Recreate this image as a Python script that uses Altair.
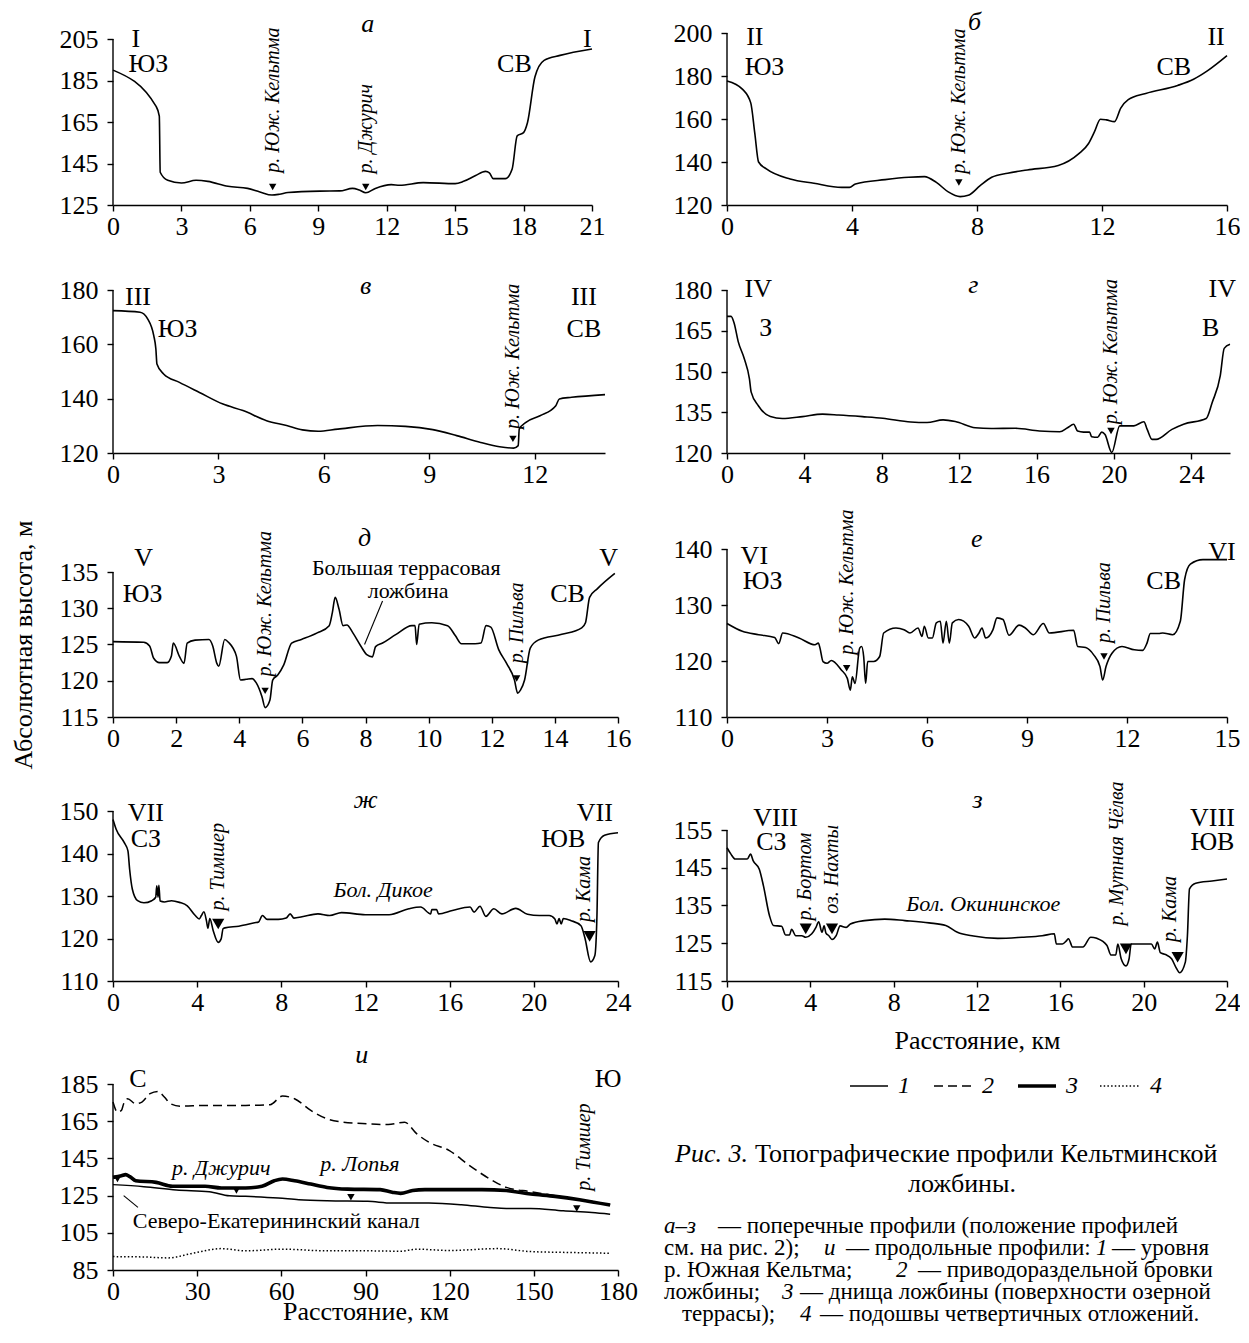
import altair as alt
import pandas as pd

FONT = "Liberation Serif"

# ------------------------------------------------------------------ data
# panel а (profile I)
A_X = [0, 1.89, 2.03, 2.07, 2.4, 3.0, 3.64, 4.16, 5.04, 5.9, 6.44, 6.97, 7.3, 7.67, 9.07, 9.94,
       10.5, 10.8, 11.08, 11.5, 12.2, 12.57, 13.6, 15.0, 15.37, 15.9, 16.33, 16.5, 16.67, 17.2,
       17.5, 17.72, 18.0, 18.17, 18.5, 18.9, 19.6, 21.0]
A_Y = [190, 172.5, 167.8, 140.8, 136.9, 135.6, 136.9, 136.4, 134, 133, 131.3, 129.8, 130.2, 131,
       131.7, 131.8, 133, 132.2, 130.9, 133, 134.8, 134.5, 135.8, 135.3, 136.4, 139.2, 141.2, 140.5,
       137.7, 137.7, 142.4, 158.3, 159.9, 164.6, 186.8, 194.7, 197.1, 200.2]
# panel б (profile II)
B_X = [0, 0.5, 0.76, 0.89, 1.01, 1.26, 2.02, 2.78, 3.67, 3.92, 4.11, 5.06, 5.82, 6.32, 6.7, 7.08,
       7.46, 7.72, 8.1, 8.47, 8.98, 9.61, 10.6, 11.26, 11.57, 11.76, 11.95, 12.14, 12.4, 12.6,
       12.84, 13.4, 14.42, 14.93, 15.37, 16.0]
B_Y = [177.7, 173.8, 167.5, 153.3, 140, 136.8, 132.1, 130.1, 128.2, 128.2, 129.8, 131.8, 132.9,
       133.2, 130.5, 126.1, 123.9, 124.5, 129, 132.9, 134.8, 136.3, 138.4, 143.9, 148.6, 154.1,
       159.9, 159.6, 158.8, 165.1, 169, 171.9, 175.6, 178.5, 182.4, 189.5]
# panel в (profile III)
C_X = [0, 0.77, 0.99, 1.16, 1.22, 1.25, 1.44, 1.89, 2.46, 3.13, 3.7, 4.37, 4.94, 5.39, 5.84, 6.4,
       7.53, 8.32, 9.1, 9.78, 10.46, 11.0, 11.4, 11.53, 11.56, 11.75, 12.15, 12.6, 12.7, 13.05, 14.0]
C_Y = [172.4, 171.8, 169.3, 163.2, 158.3, 152.8, 149.1, 146, 142.3, 138, 135.6, 131.9, 130.1,
       128.5, 128, 128.8, 130.1, 129.8, 128.6, 126.4, 123.9, 122.3, 121.8, 122.7, 128.8, 131.3,
       133.7, 137.4, 139.9, 140.5, 141.5]
# panel г (profile IV)
D_X = [0, 0.21, 0.37, 0.58, 0.89, 1.16, 1.25, 1.62, 2.24, 2.86, 3.9, 4.94, 5.77, 7.0, 8.05, 9.5,
       10.34, 11.17, 11.8, 12.83, 13.66, 14.9, 16.15, 17.2, 17.6, 17.92, 18.12, 18.43, 18.74,
       18.85, 19.16, 19.37, 19.54, 19.89, 20.3, 21.03, 21.55, 21.72, 21.97, 22.18, 23.0, 23.6,
       24.77, 25.08, 25.5, 25.7, 26.0]
D_Y = [170.3, 170.3, 167.8, 161, 154.8, 147.3, 142.4, 137.4, 133.4, 132.7, 133.4, 134.3, 134,
       133.4, 132.8, 131.4, 131.2, 132.2, 131.6, 129.3, 129, 129.1, 128.1, 127.8, 129.3, 130.6,
       128.1, 127.7, 127.7, 126, 125.8, 127.7, 126.8, 120.2, 130, 130, 131.5, 128.7, 125, 125,
       128.7, 130.6, 132.7, 138.6, 148.6, 158.5, 160]
# panel д (profile V)
E_X = [0, 0.97, 1.16, 1.29, 1.47, 1.72, 1.85, 1.91, 2.1, 2.25, 2.35, 2.6, 3.04, 3.16, 3.29, 3.35,
       3.54, 3.66, 3.91, 4.04, 4.22, 4.41, 4.54, 4.72, 4.82, 4.97, 5.06, 5.22, 5.41, 5.66, 5.97,
       6.47, 6.85, 6.95, 7.04, 7.16, 7.29, 7.41, 7.6, 7.85, 8.04, 8.22, 8.32, 8.54, 8.97, 9.47,
       9.57, 9.62, 9.7, 10.1, 10.6, 10.85, 11.04, 11.47, 11.66, 11.82, 11.97, 12.22, 12.47, 12.72,
       12.82, 12.91, 13.04, 13.22, 13.47, 14.22, 14.85, 14.97, 15.1, 15.35, 15.9]
E_Y = [125.4, 125.3, 124.8, 123.1, 122.5, 122.5, 123.4, 125.2, 123.4, 122.4, 125.2, 125.6, 125.7,
       124.8, 122.4, 122.0, 125.7, 125.3, 123.4, 120.1, 120.2, 120.3, 119.7, 117.8, 116.3, 117.3,
       120.1, 120.8, 122.2, 125.2, 125.7, 126.6, 127.6, 129.4, 131.5, 129.9, 127.6, 127.7, 126.6,
       124.8, 123.6, 123.3, 124.7, 125.2, 126.4, 127.6, 127.6, 125.0, 127.8, 128.0, 127.6, 126.2,
       125.1, 125.1, 125.2, 127.6, 127.4, 124.3, 122.4, 120.1, 118.3, 118.7, 120.1, 124.5, 125.6,
       126.4, 127.3, 128.0, 131.5, 132.7, 134.8]
# panel е (profile VI)
F_X = [0, 0.46, 0.95, 1.43, 1.55, 1.67, 2.16, 2.64, 2.74, 2.79, 2.88, 3.0, 3.13, 3.43, 3.61, 3.7,
       3.76, 3.84, 3.98, 4.04, 4.1, 4.16, 4.22, 4.4, 4.58, 4.7, 5.07, 5.31, 5.49, 5.73, 5.85, 5.92,
       6.04, 6.16, 6.28, 6.4, 6.48, 6.58, 6.67, 6.76, 6.95, 7.25, 7.43, 7.55, 7.65, 7.76, 7.98,
       8.1, 8.28, 8.46, 8.76, 8.95, 9.19, 9.49, 9.67, 10.4, 10.52, 10.76, 11.0, 11.19, 11.27,
       11.37, 11.55, 11.85, 12.22, 12.47, 12.6, 12.7, 12.95, 13.07, 13.37, 13.6, 13.73, 13.9,
       14.28, 15.0]
F_Y = [126.7, 125.3, 124.7, 124.2, 123.1, 125.0, 124.1, 122.9, 123.2, 122.3, 119.9, 119.6, 120.1,
       118.4, 116.9, 114.8, 117.2, 116.0, 122.3, 122.6, 120.8, 116.0, 119.9, 119.9, 120.8, 125.0,
       125.9, 125.6, 125.0, 125.9, 124.4, 126.2, 124.1, 124.1, 126.8, 127.1, 123.2, 127.1, 123.2,
       126.8, 127.4, 126.2, 124.1, 124.9, 125.9, 124.1, 125.6, 127.7, 127.4, 124.6, 126.4, 125.9,
       124.7, 126.7, 125.0, 125.5, 122.6, 122.4, 121.1, 119.0, 116.6, 119.0, 121.4, 122.6, 122.0,
       121.9, 123.2, 124.9, 124.9, 125.0, 124.7, 127.1, 134.6, 137.3, 138.1, 138.1]
# panel ж (profile VII)
G_X = [0, 0.15, 0.53, 0.71, 0.79, 0.92, 1.17, 1.47, 1.84, 2.03, 2.08, 2.14, 2.18, 2.24, 2.44, 2.78,
       3.16, 3.53, 3.91, 4.1, 4.2, 4.32, 4.44, 4.51, 4.6, 4.76, 5.0, 5.14, 5.23, 5.32, 5.98, 6.73,
       6.92, 7.1, 7.33, 7.86, 8.23, 8.42, 8.6, 8.98, 9.74, 10.3, 10.86, 11.99, 13.12, 14.06,
       14.62, 15.1, 15.15, 15.38, 15.47, 16.13, 16.97, 17.16, 17.44, 17.72, 18.1, 18.48, 19.14,
       19.7, 20.26, 20.73, 21.0, 21.1, 21.2, 21.3, 21.4, 21.77, 22.24, 22.42, 22.7, 22.9, 23.0,
       23.07, 23.36, 24.0]
G_Y = [148, 145.7, 142.6, 140.6, 136.3, 131.6, 128.9, 128.4, 128.9, 129.7, 132.4, 129.7, 132.5,
       128.8, 128.6, 128.9, 128.5, 127.7, 125.4, 124.6, 125.4, 126.3, 124.2, 122.4, 124.7, 121.9,
       119.1, 119.9, 122.3, 122.5, 122.9, 123.7, 123.9, 125.4, 124.5, 124.5, 124.8, 125.8, 124.8,
       125.1, 125.8, 125.4, 126.1, 125.6, 125.6, 127.0, 127.4, 125.8, 126.8, 126.8, 125.8, 126.6,
       127.4, 126.2, 127.6, 125.2, 127.0, 125.8, 127.1, 125.7, 125.4, 125.4, 124.6, 123.4, 124.7,
       123.4, 124.7, 124.2, 123.0, 120.3, 114.5, 116.0, 125.4, 142.6, 144.3, 144.9]
# panel з (profile VIII)
H_X = [0, 0.19, 0.39, 0.97, 1.13, 1.26, 1.55, 1.75, 2.04, 2.23, 2.62, 2.81, 3.0, 3.1, 3.3, 3.59,
       3.78, 4.07, 4.27, 4.4, 4.56, 4.66, 4.75, 4.89, 5.04, 5.24, 5.43, 5.72, 5.92, 6.6, 7.57,
       8.54, 9.7, 10.5, 11.06, 11.83, 13.0, 14.16, 15.13, 15.71, 15.81, 16.1, 16.3, 16.39, 16.59,
       17.08, 17.46, 17.75, 18.24, 18.43, 18.66, 18.76, 18.92, 19.15, 19.3, 19.4, 20.37, 20.53,
       20.66, 20.8, 21.05, 21.34, 21.54, 21.73, 22.0, 22.1, 22.2, 22.5, 23.28, 24.0]
H_Y = [150.3, 148.6, 147.3, 147.3, 148.6, 146.8, 144.6, 140.2, 132.3, 129.7, 129.5, 127.2, 127.2,
       128.7, 127.0, 127.0, 126.6, 127.5, 129.2, 130.7, 127.9, 129.6, 127.7, 127.0, 126.0, 127.0,
       129.6, 129.2, 130.1, 131.0, 131.4, 131.0, 130.4, 129.7, 127.9, 126.9, 126.3, 126.6, 127.0,
       127.5, 124.8, 124.8, 125.7, 126.2, 124.0, 124.0, 126.6, 126.3, 124.4, 121.9, 121.9, 124.8,
       120.9, 119.0, 120.9, 124.8, 124.8, 123.5, 125.3, 122.5, 122.0, 120.9, 118.7, 117.2, 120.0,
       127.0, 139.4, 140.9, 141.5, 142.0]
# panel и (longitudinal profiles 1-4)
I1_X = [0, 11, 22.6, 34.3, 41.5, 47.3, 58.9, 66.2, 76.3, 90.8, 99.5, 112.6, 124.2, 134.4, 140.2,
        148.9, 160.5, 170.7, 177.2]
I1_Y = [130.9, 129.8, 128, 127.1, 124.9, 124.6, 123.7, 122.8, 122.2, 121.9, 121, 121, 120.1,
        118.6, 118.1, 118.1, 116.8, 115.9, 115]
I2_X = [0, 1.6, 3.0, 3.8, 5.2, 8.1, 10.3, 13.2, 16.1, 18.3, 20.5, 24.1, 32.8, 47.3, 56, 60.4,
        64.7, 70.5, 76.3, 82.1, 90.8, 98.1, 103.9, 108.3, 112.6, 119.9, 127.1, 134.4, 140.2,
        148.9, 157.6, 163.4, 169.2, 177.2]
I2_Y = [175.3, 169.9, 170.8, 174.4, 177.1, 174.4, 175.3, 179.8, 181, 178, 174.4, 173.1, 173.5,
        173.5, 173.9, 178.5, 177.1, 170.8, 166.3, 164.5, 163.6, 163.2, 164.5, 158.2, 153.7, 149.2,
        141.1, 133.9, 129.4, 127.1, 124.9, 123.5, 122.2, 119.9]
I3_X = [0, 3.0, 4.5, 6.0, 8.1, 15.4, 21.2, 32.8, 38.6, 47.3, 53.1, 57.5, 60.4, 64.7, 70.5, 76.3,
        83.6, 95.2, 99.5, 102.5, 106.8, 111.2, 119.9, 131.5, 140.2, 148.9, 157.6, 166.3, 177.2]
I3_Y = [134.8, 135.7, 136.3, 135.2, 133, 132.1, 130, 130, 129.1, 129.1, 130, 133, 133.9, 133,
        131.2, 129.4, 128.5, 128.2, 126.8, 126.2, 127.7, 128.2, 128.2, 128.2, 127.7, 125.9, 124.6,
        122.8, 119.9]
I4_X = [0, 11, 19.7, 28.4, 38.6, 47.3, 60.4, 76.3, 90.8, 102.5, 108.3, 119.9, 137.3, 148.9,
        163.4, 177.2]
I4_Y = [92.2, 92, 91.5, 94, 96.5, 95.3, 96.2, 95.3, 95.3, 95.1, 96.2, 95.5, 96.5, 94.9, 94.4, 94]

# tick labels
A_XT, A_YT = [0, 3, 6, 9, 12, 15, 18, 21], [125, 145, 165, 185, 205]
B_XT, B_YT = [0, 4, 8, 12, 16], [120, 140, 160, 180, 200]
C_XT, C_YT = [0, 3, 6, 9, 12], [120, 140, 160, 180]
D_XT, D_YT = [0, 4, 8, 12, 16, 20, 24], [120, 135, 150, 165, 180]
E_XT, E_YT = [0, 2, 4, 6, 8, 10, 12, 14, 16], [115, 120, 125, 130, 135]
F_XT, F_YT = [0, 3, 6, 9, 12, 15], [110, 120, 130, 140]
G_XT, G_YT = [0, 4, 8, 12, 16, 20, 24], [110, 120, 130, 140, 150]
H_XT, H_YT = [0, 4, 8, 12, 16, 20, 24], [115, 125, 135, 145, 155]
I_XT, I_YT = [0, 30, 60, 90, 120, 150, 180], [85, 105, 125, 145, 165, 185]

# river markers (triangles) and their rotated names
A_TRI = ([7.0, 11.08], [133.7, 133.7])
A_RIV = (["р. Юж. Кельтма", "р. Джурич"], [7.0, 11.1], [140.5, 140.2])
B_TRI = ([7.42], [130.5])
B_RIV = (["р. Юж. Кельтма"], [7.42], [134.5])
C_TRI = ([11.38], [125.2])
C_RIV = (["р. Юж. Кельтма"], [11.38], [128.8])
D_TRI = ([19.85], [128.1])
D_RIV = (["р. Юж. Кельтма"], [19.85], [130.6])
E_TRI = ([4.82, 12.79], [118.6, 120.3])
E_RIV = (["р. Юж. Кельтма", "р. Пильва"], [4.82, 12.79], [120.6, 122.4])
F_TRI = ([3.59, 11.31], [118.7, 120.8])
F_RIV = (["р. Юж. Кельтма", "р. Пильва"], [3.59, 11.31], [121.1, 123.2])
G_TRI = ([5.0, 22.65], [123.4, 120.5])
G_RIV = (["р. Тимшер", "р. Кама"], [5.0, 22.4], [126.6, 123.9])
H_TRI = ([3.78, 5.04, 19.15, 21.63], [128.8, 128.8, 123.5, 121.3])
H_RIV = (["р. Бортом", "оз. Нахты", "р. Мутная Чёлва", "р. Кама"],
         [3.72, 5.04, 18.72, 21.25], [131.0, 132.8, 129.7, 125.3])
I_TRI = ([1.6, 44, 84.8, 165.3], [133.9, 127.7, 124.1, 118.1])
I_RIV = (["р. Тимшер"], [167.8], [127.6])

# profile ends / directions
A_MK = (["I", "ЮЗ", "I", "СВ"], [1.0, 1.55, 20.8, 17.6], [205, 193, 205, 193])
B_MK = (["II", "ЮЗ", "II", "СВ"], [0.89, 1.2, 15.65, 14.3], [198, 184, 198, 184])
C_MK = (["III", "ЮЗ", "III", "СВ"], [0.71, 1.84, 13.4, 13.4], [177.3, 165.6, 177.3, 165.6])
D_MK = (["IV", "З", "IV", "В"], [1.62, 2.0, 25.6, 25.0], [180.2, 166, 180.2, 166])
E_MK = (["V", "ЮЗ", "V", "СВ"], [0.97, 0.94, 15.7, 14.4], [136.9, 132, 136.9, 132])
F_MK = (["VI", "ЮЗ", "VI", "СВ"], [0.82, 1.07, 14.85, 13.1], [138.8, 134.3, 139.5, 134.3])
G_MK = (["VII", "СЗ", "VII", "ЮВ"], [1.56, 1.56, 22.9, 21.4], [149.6, 143.4, 149.6, 143.4])
H_MK = (["VIII", "СЗ", "VIII", "ЮВ"], [2.33, 2.13, 23.3, 23.3], [158.3, 151.7, 158.3, 151.7])
I_MK = (["С", "Ю"], [8.9, 176.5], [187.9, 187.9])

# panel letters
A_LET = (["а"], [11.17], [212])
B_LET = (["б"], [7.92], [205.2])
C_LET = (["в"], [7.19], [181.6])
D_LET = (["г"], [12.73], [182])
E_LET = (["д"], [7.97], [139.7])
F_LET = (["е"], [7.49], [141.8])
G_LET = (["ж"], [12.0], [152.7])
H_LET = (["з"], [12.03], [163])
I_LET = (["и"], [88.7], [200.5])

# other annotations
E_NOTE = (["Большая террасовая", "ложбина"], [9.29, 9.35], [135.5, 132.4])
E_LEAD = ([8.54], [131.0], [7.97], [125.0])
G_NOTE_IT = (["Бол. Дикое"], [12.84], [131.3])
H_NOTE_IT = (["Бол. Окининское"], [12.3], [135.4])
I_NOTE_IT = (["р. Джурич", "р. Лопья"], [38.6, 88], [139.7, 142])
I_NOTE = (["Северо-Екатерининский канал"], [58.2], [111.4])
I_LEAD = ([3.8], [125], [8.9], [118.7])

Y_TITLE = "Абсолютная высота, м"
X_TITLE = "Расстояние, км"
LEGEND_LABELS = ["1", "2", "3", "4"]

CAPTION_TITLE_IT = "Рис. 3."
CAPTION_TITLE_1 = "Топографические профили Кельтминской"
CAPTION_TITLE_2 = "ложбины."
CAPTION_BODY = [
    [("а–з", "i"), ("— поперечные профили (положение профилей", "n")],
    [("см. на рис. 2);", "n"), ("и", "i"), ("— продольные профили:", "n"), ("1", "i"), ("— уровня", "n")],
    [("р. Южная Кельтма;", "n"), ("2", "i"), ("— приводораздельной бровки", "n")],
    [("ложбины;", "n"), ("3", "i"), ("— днища ложбины (поверхности озерной", "n")],
    [("террасы);", "n"), ("4", "i"), ("— подошвы четвертичных отложений.", "n")],
]

# ------------------------------------------------------------------ layout / styles
ROW_H = [172, 163, 179, 179, 204]
ROW_SPACING = 85
COL_SPACING = 109
LINE_W = 1.6
SMALL_TRI = 55
BIG_TRI = 150
RIVER_FS = 20
SERIES_STYLE = {"1": dict(strokeWidth=1.5),
                "2": dict(strokeWidth=1.5, strokeDash=[9, 5]),
                "3": dict(strokeWidth=3.6),
                "4": dict(strokeWidth=1.5, strokeDash=[1.5, 2.2])}
# caption cell origin (page px) and positions of caption elements (page px)
CAP_ORIGIN = (727, 1067)
CAP_W, CAP_H = 500, 204
LEGEND_POS = [(850, 888, 1087, 904), (934, 976, 1087, 988), (1018, 1056, 1087, 1072), (1100, 1140, 1087, 1156)]
CAP_TITLE_POS = dict(it=(748, 1163), t1=(755, 1163), t2=(962, 1193))
BODY_X = [[664, 718], [664, 824, 846, 1096, 1112], [664, 896, 918], [664, 782, 800], [682, 800, 820]]
BODY_Y = [1234, 1256, 1278, 1300, 1322]


def tdf(t, x, y):
    return pd.DataFrame({"t": t, "x": x, "y": y})


def panel(xs, ys, xmax, xticks, ymin, ymax, yticks, width, height, ext, tri, tri_size, riv, mk, let,
          notes=None, notes_it=None, lead=None, xtitle=None, title_pad=0, series=None, extra=()):
    ytop = ymax + ext * (ymax - ymin) / (height - ext)
    X = alt.X("x:Q", scale=alt.Scale(domain=[0, xmax], nice=False, zero=False),
              axis=alt.Axis(values=xticks, format="d", labelFlush=False, title=xtitle,
                            titlePadding=title_pad))
    Y = alt.Y("y:Q", scale=alt.Scale(domain=[ymin, ytop], nice=False, zero=False),
              axis=alt.Axis(values=yticks, format="d", title=None, domain=False))
    layers = [
        alt.Chart(pd.DataFrame({"x": [0], "y": [ymin], "y2": [ymax]}))
        .mark_rule(color="black", strokeWidth=1.4).encode(x=X, y=Y, y2="y2:Q")
    ]
    if series is None:
        layers.append(alt.Chart(pd.DataFrame({"x": xs, "y": ys}))
                      .mark_line(color="black", strokeWidth=LINE_W, interpolate="monotone")
                      .encode(x=X, y=Y))
    else:
        for name, sx, sy in series:
            layers.append(alt.Chart(pd.DataFrame({"x": sx, "y": sy}))
                          .mark_line(color="black", interpolate="monotone", **SERIES_STYLE[name])
                          .encode(x=X, y=Y))
    layers.append(alt.Chart(pd.DataFrame({"x": tri[0], "y": tri[1]}))
                  .mark_point(shape="triangle-down", filled=True, color="black", opacity=1, size=tri_size)
                  .encode(x=X, y=Y))
    layers.append(alt.Chart(tdf(*riv)).mark_text(angle=270, align="left", baseline="middle",
                                                 fontStyle="italic", fontSize=RIVER_FS, color="black")
                  .encode(x=X, y=Y, text="t:N"))
    layers.append(alt.Chart(tdf(*mk)).mark_text(fontSize=26, color="black", baseline="middle")
                  .encode(x=X, y=Y, text="t:N"))
    layers.append(alt.Chart(tdf(*let)).mark_text(fontSize=26, fontStyle="italic", color="black",
                                                 baseline="middle")
                  .encode(x=X, y=Y, text="t:N"))
    if notes is not None:
        layers.append(alt.Chart(tdf(*notes)).mark_text(fontSize=22, color="black", baseline="middle")
                      .encode(x=X, y=Y, text="t:N"))
    if notes_it is not None:
        layers.append(alt.Chart(tdf(*notes_it)).mark_text(fontSize=22, fontStyle="italic",
                                                          color="black", baseline="middle")
                      .encode(x=X, y=Y, text="t:N"))
    if lead is not None:
        layers.append(alt.Chart(pd.DataFrame({"x": lead[0], "y": lead[1], "x2": lead[2], "y2": lead[3]}))
                      .mark_rule(color="black", strokeWidth=1.1)
                      .encode(x=X, y=Y, x2="x2:Q", y2="y2:Q"))
    layers.extend(extra)
    return alt.layer(*layers).properties(width=width, height=height)


y_title = (alt.Chart(pd.DataFrame({"t": [Y_TITLE]}))
           .mark_text(angle=270, fontSize=26, color="black", align="center", baseline="middle")
           .encode(text="t:N", x=alt.value(-89), y=alt.value(107)))

pa = panel(A_X, A_Y, 21, A_XT, 125, 205, A_YT, 479, ROW_H[0], 6, A_TRI, SMALL_TRI, A_RIV, A_MK, A_LET)
pb = panel(B_X, B_Y, 16, B_XT, 120, 200, B_YT, 500, ROW_H[0], 0, B_TRI, SMALL_TRI, B_RIV, B_MK, B_LET)
pc = panel(C_X, C_Y, 14, C_XT, 120, 180, C_YT, 492, ROW_H[1], 0, C_TRI, SMALL_TRI, C_RIV, C_MK, C_LET)
pd_ = panel(D_X, D_Y, 26, D_XT, 120, 180, D_YT, 503, ROW_H[1], 0, D_TRI, SMALL_TRI, D_RIV, D_MK, D_LET)
pe = panel(E_X, E_Y, 16, E_XT, 115, 135, E_YT, 505, ROW_H[2], 34, E_TRI, SMALL_TRI, E_RIV, E_MK, E_LET,
           notes=E_NOTE, lead=E_LEAD, extra=(y_title,))
pf = panel(F_X, F_Y, 15, F_XT, 110, 140, F_YT, 500, ROW_H[2], 11, F_TRI, SMALL_TRI, F_RIV, F_MK, F_LET)
pg = panel(G_X, G_Y, 24, G_XT, 110, 150, G_YT, 505, ROW_H[3], 9, G_TRI, BIG_TRI, G_RIV, G_MK, G_LET,
           notes_it=G_NOTE_IT)
ph = panel(H_X, H_Y, 24, H_XT, 115, 155, H_YT, 500, ROW_H[3], 28, H_TRI, BIG_TRI, H_RIV, H_MK, H_LET,
           notes_it=H_NOTE_IT, xtitle=X_TITLE, title_pad=12)
pi = panel(None, None, 180, I_XT, 85, 185, I_YT, 505, ROW_H[4], 18, I_TRI, SMALL_TRI, I_RIV, I_MK, I_LET,
           notes=I_NOTE, notes_it=I_NOTE_IT, lead=I_LEAD, xtitle=X_TITLE, title_pad=-6,
           series=[("2", I2_X, I2_Y), ("1", I1_X, I1_Y), ("3", I3_X, I3_Y), ("4", I4_X, I4_Y)])

# ---------------- caption / legend cell
ox, oy = CAP_ORIGIN
CX = alt.X("x:Q", scale=alt.Scale(domain=[0, CAP_W], nice=False, zero=False), axis=None)
CY = alt.Y("y:Q", scale=alt.Scale(domain=[0, CAP_H], nice=False, zero=False, reverse=True), axis=None)
cap_layers = [alt.Chart(pd.DataFrame({"x": [0], "y": [0]})).mark_point(opacity=0).encode(x=CX, y=CY)]
for lab, (x1, x2, y, lx) in zip(LEGEND_LABELS, LEGEND_POS):
    cap_layers.append(alt.Chart(pd.DataFrame({"x": [x1 - ox], "x2": [x2 - ox], "y": [y - oy]}))
                      .mark_rule(color="black", **SERIES_STYLE[lab]).encode(x=CX, x2="x2:Q", y=CY))
cap_layers.append(alt.Chart(tdf(LEGEND_LABELS, [p[3] - ox for p in LEGEND_POS], [p[2] - oy for p in LEGEND_POS]))
                  .mark_text(fontSize=24, fontStyle="italic", color="black", baseline="middle")
                  .encode(x=CX, y=CY, text="t:N"))
cap_layers.append(alt.Chart(tdf([CAPTION_TITLE_IT], [CAP_TITLE_POS["it"][0] - ox], [CAP_TITLE_POS["it"][1] - oy]))
                  .mark_text(fontSize=26, fontStyle="italic", color="black", align="right", baseline="alphabetic")
                  .encode(x=CX, y=CY, text="t:N"))
cap_layers.append(alt.Chart(tdf([CAPTION_TITLE_1], [CAP_TITLE_POS["t1"][0] - ox], [CAP_TITLE_POS["t1"][1] - oy]))
                  .mark_text(fontSize=26, color="black", align="left", baseline="alphabetic")
                  .encode(x=CX, y=CY, text="t:N"))
cap_layers.append(alt.Chart(tdf([CAPTION_TITLE_2], [CAP_TITLE_POS["t2"][0] - ox], [CAP_TITLE_POS["t2"][1] - oy]))
                  .mark_text(fontSize=26, color="black", align="center", baseline="alphabetic")
                  .encode(x=CX, y=CY, text="t:N"))
seg_n, seg_i = ([], [], []), ([], [], [])
for line, xs_, y in zip(CAPTION_BODY, BODY_X, BODY_Y):
    for (txt, st), x in zip(line, xs_):
        tgt = seg_i if st == "i" else seg_n
        tgt[0].append(txt); tgt[1].append(x - ox); tgt[2].append(y - oy)
cap_layers.append(alt.Chart(tdf(*seg_n)).mark_text(fontSize=23, color="black", align="left", baseline="alphabetic")
                  .encode(x=CX, y=CY, text="t:N"))
cap_layers.append(alt.Chart(tdf(*seg_i)).mark_text(fontSize=23, fontStyle="italic", color="black", align="left",
                                                    baseline="alphabetic")
                  .encode(x=CX, y=CY, text="t:N"))
pcap = alt.layer(*cap_layers).properties(width=CAP_W, height=CAP_H)

chart = alt.concat(pa, pb, pc, pd_, pe, pf, pg, ph, pi, pcap, columns=2,
                   spacing={"row": ROW_SPACING, "column": COL_SPACING},
                   bounds="flush", align="each")
chart = chart.properties(padding={"left": 3, "top": 0, "right": 0, "bottom": 0}, background="white")
chart = (chart.configure(font=FONT)
         .configure_view(stroke=None)
         .configure_axis(domainColor="black", domainWidth=1.4, tickColor="black", tickWidth=1.4,
                         tickSize=6, labelColor="black", labelFont=FONT, labelFontSize=26,
                         titleFont=FONT, titleFontSize=26, titleFontWeight="normal",
                         titleColor="black", grid=False, labelOverlap=False)
         .configure_axisX(labelPadding=2)
         .configure_axisY(labelPadding=9))

chart.save("out.html", embed_options={"renderer": "svg", "actions": False})
